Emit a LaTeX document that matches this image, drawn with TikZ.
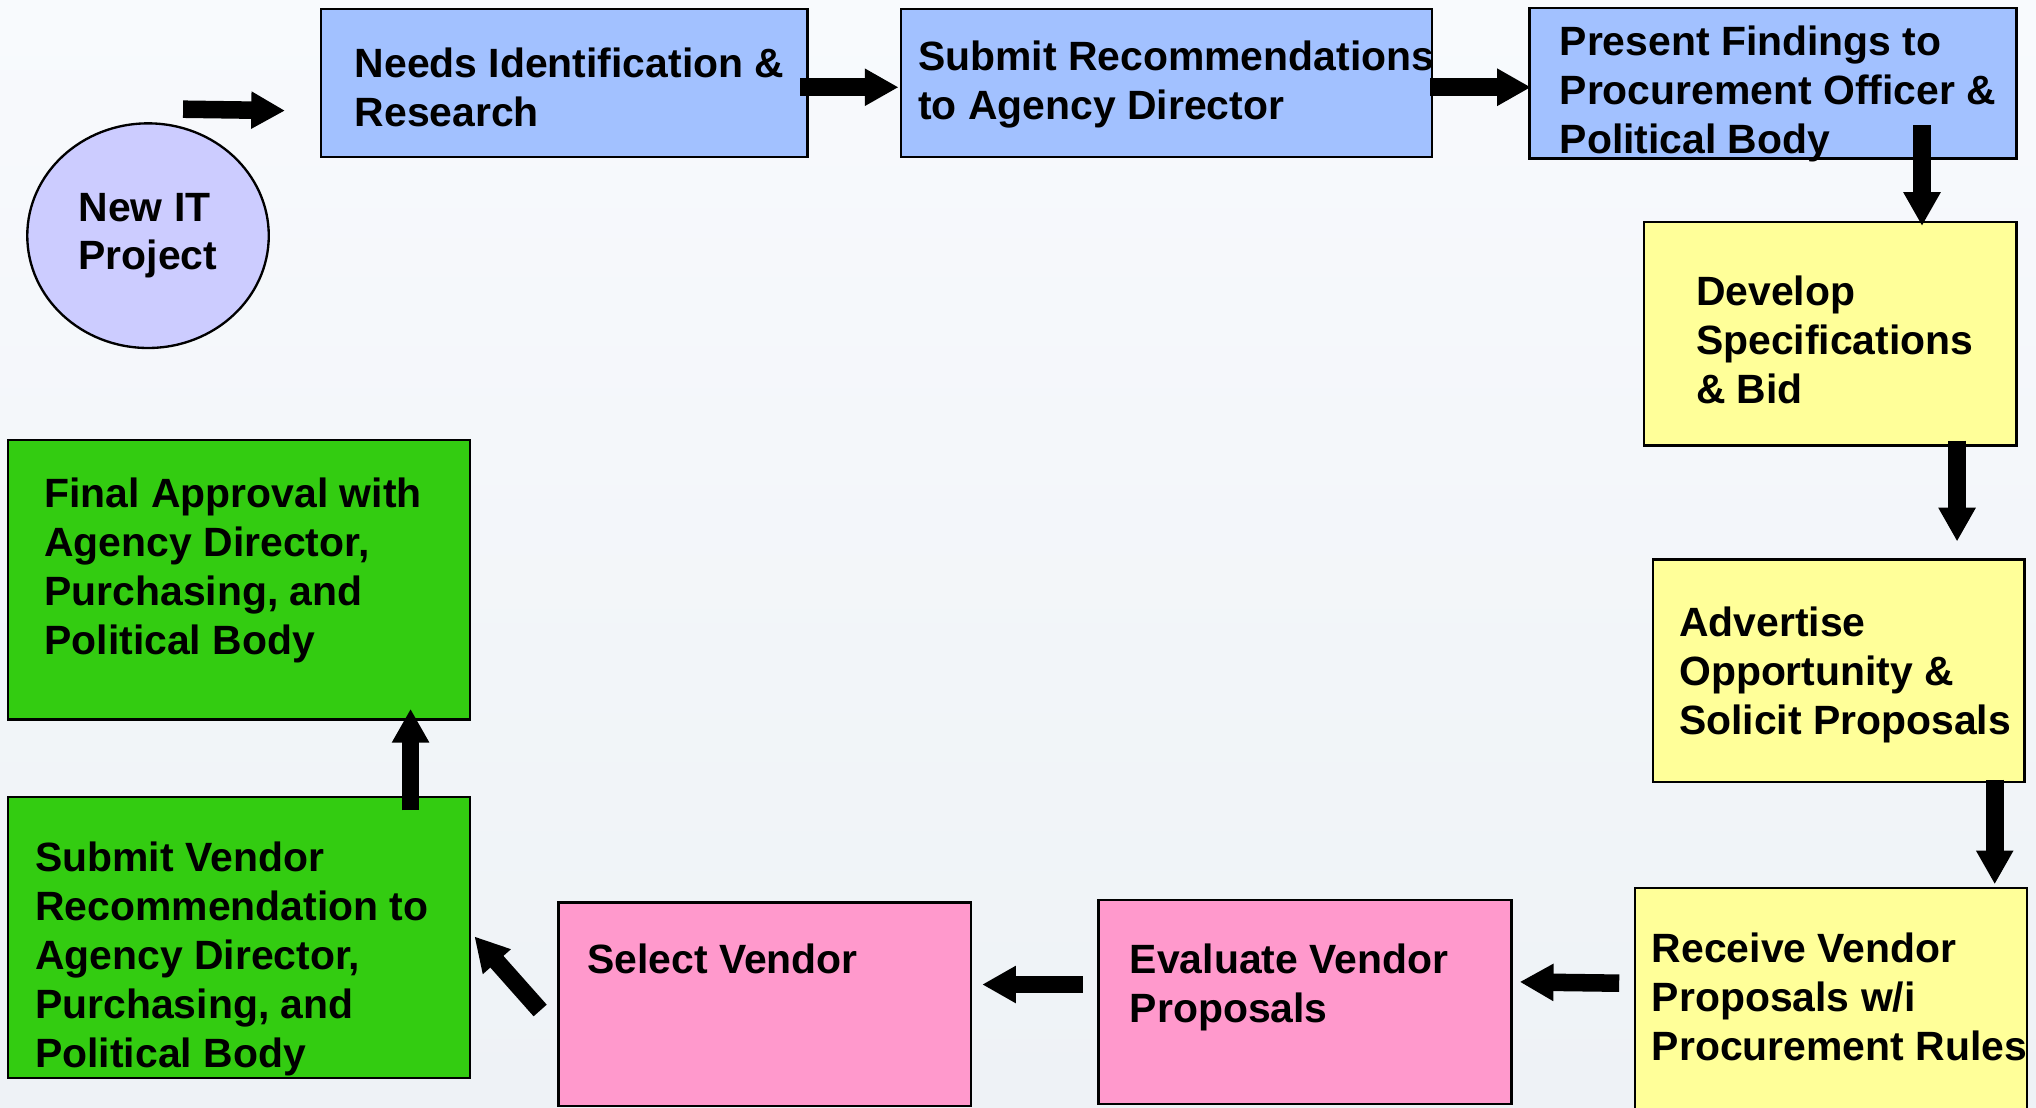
\documentclass[tikz,border=0pt]{standalone}
\usepackage{fontspec}
\setmainfont{Liberation Sans}
\usetikzlibrary{arrows.meta,shapes.geometric,calc}
\definecolor{bgtop}{HTML}{F8FAFD}
\definecolor{bgbot}{HTML}{EEF2F6}
\definecolor{boxblue}{HTML}{A2C1FF}
\definecolor{lav}{HTML}{CCCCFF}
\definecolor{boxyellow}{HTML}{FFFF99}
\definecolor{boxpink}{HTML}{FF99CC}
\definecolor{boxgreen}{HTML}{33CC11}
\tikzset{
  box/.style={draw=black, line width=1.8pt, rectangle, inner sep=0pt},
  txt/.style={anchor=base west, inner sep=0pt, align=left, font=\bfseries\fontsize{31.5}{37.7}\selectfont},
  barrow/.style={draw=black, line width=13.5pt, -{Triangle[width=27pt,length=26pt]}},
}
\newcommand{\boxat}[6]{% name, x1, y1, x2, y2, colour
  \path[box, fill=#6] (#2,#3) rectangle (#4,#5);
  \node[inner sep=0pt, minimum width={(#4-#2)*1pt}, minimum height={(#5-#3)*1pt}, anchor=north west] (#1) at (#2,#3) {};
}
\begin{document}
\begin{tikzpicture}[x=1pt,y=-1pt]
\useasboundingbox (0,0) rectangle (1568,853);
\shade[top color=bgtop, bottom color=bgbot] (0,0) rectangle (1568,853);
\begin{scope}
\clip (0,0) rectangle (1568,853);
% boxes
\boxat{needs}{247}{7}{622}{121}{boxblue}
\boxat{subrec}{694}{7}{1103}{121}{boxblue}
\boxat{present}{1178}{6}{1553}{122}{boxblue}
\boxat{develop}{1266}{171}{1553}{343}{boxyellow}
\boxat{advert}{1273}{431}{1559}{602}{boxyellow}
\boxat{receive}{1259}{684}{1561}{862}{boxyellow}
\boxat{eval}{846}{693}{1164}{850}{boxpink}
\boxat{select}{430}{695}{748}{852}{boxpink}
\boxat{subven}{6}{614}{362}{830}{boxgreen}
\boxat{final}{6}{339}{362}{554}{boxgreen}
\node[ellipse, draw=black, line width=1.8pt, fill=lav, minimum width=186pt, minimum height=173pt, align=left,
      font=\bfseries\fontsize{31.5}{37.3}\selectfont] (newit) at (114,181.5) {New IT\\Project};
% texts (anchor at the baseline of the last line)
\node[txt] (tneeds) at (273,97.7) {Needs Identification \&\\Research};
\node[txt] (tsubrec) at (707,91.7) {Submit Recommendations\\to Agency Director};
\node[txt] (tpresent) at (1201,118.4) {Present Findings to\\Procurement Officer \&\\Political Body};
\node[txt] (tdevelop) at (1306,310.4) {Develop\\Specifications\\\& Bid};
\node[txt] (tadvert) at (1293,565.4) {Advertise\\Opportunity \&\\Solicit Proposals};
\node[txt] (treceive) at (1272,816.4) {Receive Vendor\\Proposals w/i\\Procurement Rules};
\node[txt] (teval) at (870,787.7) {Evaluate Vendor\\Proposals};
\node[txt] (tselect) at (452,750) {Select Vendor};
\node[txt] (tsubven) at (27,821.8) {Submit Vendor\\Recommendation to\\Agency Director,\\Purchasing, and\\Political Body};
\node[txt] (tfinal) at (34,504.1) {Final Approval with\\Agency Director,\\Purchasing, and\\Political Body};
% arrows
\draw[barrow] ($(newit.north)+(27,-10)$) -- ($(needs.west)+(-27.5,21)$);
\draw[barrow] ($(needs.east)+(-6,3)$) -- ($(subrec.west)+(-2,3)$);
\draw[barrow] ($(subrec.east)+(-2,3)$) -- ($(present.west)+(1,3)$);
\draw[barrow] ($(present.south)+(114.5,-26)$) -- ($(develop.north)+(70.5,3)$);
\draw[barrow] ($(develop.south)+(97.5,-4)$) -- ($(advert.north)+(91,-14)$);
\draw[barrow] ($(advert.south)+(120,-2)$) -- ($(receive.north)+(126,-3)$);
\draw[barrow] ($(receive.west)+(-12,-16)$) -- ($(eval.east)+(6,-15.5)$);
\draw[barrow] ($(eval.west)+(-12,-13.5)$) -- ($(select.east)+(8,-15.5)$);
\draw[barrow] ($(select.west)+(-14,4.5)$) -- ($(subven.east)+(3,-1)$);
\draw[barrow] ($(subven.north)+(132,10)$) -- ($(final.south)+(132,-8.5)$);
\end{scope}
\end{tikzpicture}
\end{document}
